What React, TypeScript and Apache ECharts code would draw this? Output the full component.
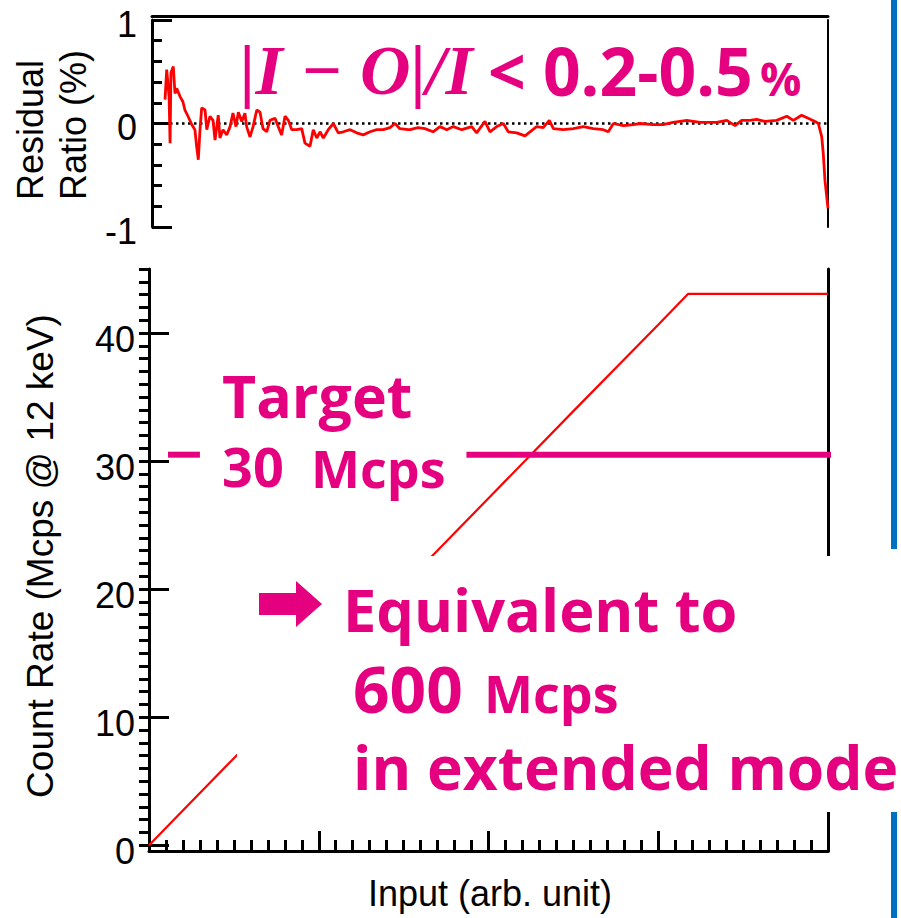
import React, { useEffect, useRef } from "react";
import * as echarts from "echarts";

// Residual ratio panel (input in arb. unit, residual in %)
const residualX = [
  0.077, 0.087, 0.101, 0.107, 0.112, 0.126, 0.136, 0.146, 0.166, 0.183, 0.195, 0.213,
  0.235, 0.254, 0.264, 0.274, 0.284, 0.294, 0.314, 0.324, 0.343, 0.361, 0.373, 0.392,
  0.402, 0.42, 0.442, 0.462, 0.479, 0.497, 0.511, 0.531, 0.55, 0.56, 0.58, 0.598,
  0.62, 0.639, 0.657, 0.679, 0.698, 0.728, 0.747, 0.767, 0.787, 0.807, 0.827, 0.856,
  0.886, 0.905, 0.935, 0.954, 0.975, 0.994, 1.014, 1.043, 1.073, 1.102, 1.132, 1.172,
  1.211, 1.25, 1.29, 1.33, 1.369, 1.408, 1.438, 1.467, 1.517, 1.527, 1.574, 1.615,
  1.663, 1.704, 1.744, 1.783, 1.833, 1.892, 1.921, 1.97, 2.0, 2.04, 2.079, 2.108,
  2.158, 2.207, 2.237, 2.276, 2.315, 2.351, 2.375, 2.434, 2.493, 2.552, 2.611, 2.67,
  2.7, 2.73, 2.789, 2.848, 2.888, 2.966, 3.024, 3.083, 3.164, 3.243, 3.341, 3.401,
  3.45, 3.489, 3.538, 3.578, 3.627, 3.696, 3.756, 3.795, 3.844, 3.883, 3.923, 3.943,
  3.963, 3.972, 3.982, 4.0,
];
const residualY = [
  0.23, 0.52, 0.26, -0.19, 0.49, 0.55, 0.29, 0.34, 0.26, 0.21, 0.13, 0.07,
  -0.01, -0.06, -0.22, -0.35, -0.06, 0.15, 0.13, -0.06, 0.07, 0.03, -0.16, 0.08,
  -0.14, -0.06, -0.11, -0.03, 0.1, -0.03, 0.11, 0.02, 0.1, -0.03, -0.13, -0.03,
  0.13, 0.11, -0.05, -0.08, 0.03, 0.05, -0.03, -0.11, 0.07, 0.03, -0.06, -0.06,
  -0.05, -0.19, -0.22, -0.06, -0.14, -0.08, -0.14, -0.06, 0.0, -0.09, -0.08, -0.06,
  -0.09, -0.11, -0.08, -0.06, -0.06, -0.04, 0.0, -0.05, -0.06, -0.06, -0.04, -0.05,
  -0.08, -0.03, -0.06, -0.03, -0.06, -0.03, -0.09, 0.02, -0.08, -0.03, 0.0, -0.08,
  -0.09, -0.12, -0.08, -0.03, -0.04, 0.03, -0.05, -0.06, -0.05, -0.03, -0.05, -0.06,
  -0.08, 0.0, -0.02, -0.01, 0.0, -0.01, -0.01, 0.01, 0.03, 0.01, 0.01, 0.03,
  -0.02, 0.03, 0.03, 0.04, 0.02, 0.03, 0.07, 0.03, 0.08, 0.05, 0.02, 0.0,
  -0.13, -0.29, -0.55, -0.82,
];

// Count rate panel
const outputX = [0, 0.5, 1, 1.5, 2, 2.5, 3, 3.175, 4];
const outputY = [0, 6.8, 13.55, 20.3, 27.1, 33.9, 40.65, 43.05, 43.05];

const targetRate = 30.5;
const targetLeftSeg = [0.112, 0.3];
const targetRightSeg = [1.87, 4.03];

const countMajorTicks = [0, 10, 20, 30, 40];
const countMinorTicks = Array.from({ length: 46 }, (_, i) => i);

const PINK = "#E4007F";
const SANS = "'Liberation Sans', Arial, sans-serif";
const BOLD = "'Open Sans', 'Noto Sans', sans-serif";

export default function App() {
  const ref = useRef<HTMLDivElement>(null);
  useEffect(() => {
    document.body.style.margin = "0";
    const chart = echarts.init(ref.current!, undefined, { renderer: "svg" });
    const axisLine = { show: true, onZero: false, lineStyle: { color: "#000", width: 3 } };
    const pinkText = (x: number, y: number, text: string, size: number, extra: any = {}) => ({
      type: "text",
      x,
      y,
      z: 110,
      style: {
        text,
        fill: PINK,
        font: `bold ${size}px ${BOLD}`,
        verticalAlign: "middle",
        align: "left",
        ...extra,
      },
    });
    chart.setOption({
      animation: false,
      backgroundColor: "#fff",
      grid: [
        { left: 152, top: 20, width: 676, height: 207 },
        { left: 149, top: 269, width: 679, height: 582 },
      ],
      xAxis: [
        {
          gridIndex: 0, type: "value", min: 0, max: 4,
          axisLine: { show: false }, axisTick: { show: false }, axisLabel: { show: false }, splitLine: { show: false },
        },
        {
          gridIndex: 0, type: "value", min: 0, max: 4, position: "top", offset: 4,
          axisLine, axisTick: { show: false }, axisLabel: { show: false }, splitLine: { show: false },
        },
        {
          gridIndex: 1, type: "value", min: 0, max: 4, interval: 1,
          axisLine,
          axisTick: { show: true, inside: true, length: 20, lineStyle: { color: "#000", width: 3 } },
          minorTick: { show: true, splitNumber: 10, length: 11, lineStyle: { color: "#000", width: 3 } },
          axisLabel: { show: false }, splitLine: { show: false },
        },
      ],
      yAxis: [
        {
          gridIndex: 0, type: "value", min: -1, max: 1, interval: 1,
          axisLine,
          axisTick: { show: true, inside: true, length: 20, lineStyle: { color: "#000", width: 3 } },
          minorTick: { show: true, splitNumber: 5, length: 10, lineStyle: { color: "#000", width: 3 } },
          axisLabel: { show: true, fontSize: 36, color: "#000", fontFamily: SANS, margin: 15, verticalAlign: "top", lineHeight: 8 },
          splitLine: { show: false },
        },
        {
          gridIndex: 0, type: "value", min: -1, max: 1, position: "right",
          axisLine: { show: true, onZero: false, lineStyle: { color: "#000", width: 2 } },
          axisTick: { show: false }, axisLabel: { show: false }, splitLine: { show: false },
        },
        {
          gridIndex: 1, type: "value", min: -0.45, max: 45,
          axisLine,
          axisTick: { show: true, inside: true, length: 20, customValues: countMajorTicks, lineStyle: { color: "#000", width: 3 } },
          axisLabel: { show: true, customValues: countMajorTicks, fontSize: 36, color: "#000", fontFamily: SANS, margin: 14, verticalAlign: "top", lineHeight: 12 },
          splitLine: { show: false },
        },
        {
          gridIndex: 1, type: "value", min: -0.45, max: 45,
          axisLine: { show: false },
          axisTick: { show: true, inside: true, length: 10, customValues: countMinorTicks, lineStyle: { color: "#000", width: 3 } },
          axisLabel: { show: false }, splitLine: { show: false },
        },
        {
          gridIndex: 1, type: "value", min: -0.45, max: 45, position: "right",
          axisLine: { show: true, onZero: false, lineStyle: { color: "#000", width: 3 } },
          axisTick: { show: false }, axisLabel: { show: false }, splitLine: { show: false },
        },
      ],
      series: [
        {
          type: "line", xAxisIndex: 0, yAxisIndex: 0, symbol: "none", z: 1,
          data: [[0, 0], [4, 0]],
          lineStyle: { color: "#000", width: 2.5, type: [2.5, 3.5] },
        },
        {
          type: "line", xAxisIndex: 0, yAxisIndex: 0, symbol: "none", z: 3,
          data: residualX.map((x, i) => [x, residualY[i]]),
          lineStyle: { color: "#FF0000", width: 2.8 },
        },
        {
          type: "line", xAxisIndex: 2, yAxisIndex: 2, symbol: "none", z: 3,
          data: outputX.map((x, i) => [x, outputY[i]]),
          lineStyle: { color: "#FF0000", width: 2.2 },
        },
        {
          type: "line", xAxisIndex: 2, yAxisIndex: 2, symbol: "none", z: 4, clip: false,
          data: targetLeftSeg.map((x) => [x, targetRate]),
          lineStyle: { color: PINK, width: 6 },
        },
        {
          type: "line", xAxisIndex: 2, yAxisIndex: 2, symbol: "none", z: 4, clip: false,
          data: targetRightSeg.map((x) => [x, targetRate]),
          lineStyle: { color: PINK, width: 6 },
        },
      ],
      graphic: [
        // white box behind the bottom annotation
        { type: "rect", z: 100, shape: { x: 237, y: 556, width: 664, height: 256 }, style: { fill: "#fff" } },
        // blue divider on the right edge
        { type: "rect", z: 105, shape: { x: 891, y: 0, width: 6, height: 549 }, style: { fill: "#0070C0" } },
        { type: "rect", z: 105, shape: { x: 891, y: 812, width: 6, height: 106 }, style: { fill: "#0070C0" } },
        // axis titles
        {
          type: "text", x: 30, y: 200, rotation: Math.PI / 2, z: 110,
          style: { text: "Residual", fill: "#000", font: `36px ${SANS}`, align: "left", verticalAlign: "middle" },
        },
        {
          type: "text", x: 73, y: 200, rotation: Math.PI / 2, z: 110,
          style: { text: "Ratio (%)", fill: "#000", font: `36px ${SANS}`, align: "left", verticalAlign: "middle" },
        },
        {
          type: "text", x: 40, y: 556, rotation: Math.PI / 2, z: 110,
          style: { text: "Count Rate (Mcps @ 12 keV)", fill: "#000", font: `37px ${SANS}`, align: "center", verticalAlign: "middle" },
        },
        {
          type: "text", x: 490, y: 893, z: 110,
          style: { text: "Input (arb. unit)", fill: "#000", font: `36px ${SANS}`, align: "center", verticalAlign: "middle" },
        },
        // formula
        {
          type: "text", x: 240, y: 70, z: 110,
          style: {
            text: "|I \u2212 O|/I", fill: PINK,
            font: `italic bold 70px 'Liberation Serif', 'DejaVu Serif', serif`,
            align: "left", verticalAlign: "middle",
          },
        },
        pinkText(488, 70, "< 0.2-0.5", 66),
        pinkText(760, 78, "%", 46),
        // target
        pinkText(222, 395, "Target", 59),
        pinkText(222, 466, "30", 54),
        pinkText(311, 467, "Mcps", 52),
        // arrow
        {
          type: "polygon", z: 110,
          shape: { points: [[259, 593], [296, 593], [296, 581], [322, 604], [296, 627], [296, 615], [259, 615]] },
          style: { fill: PINK },
        },
        pinkText(343, 608, "Equivalent to", 59.5),
        pinkText(353, 688, "600", 64),
        pinkText(484, 692, "Mcps", 52),
        pinkText(353, 766, "in extended mode", 60.5),
      ],
    });
    return () => chart.dispose();
  }, []);
  return <div ref={ref} style={{ position: "absolute", left: 0, top: 0, width: 901, height: 918 }} />;
}
